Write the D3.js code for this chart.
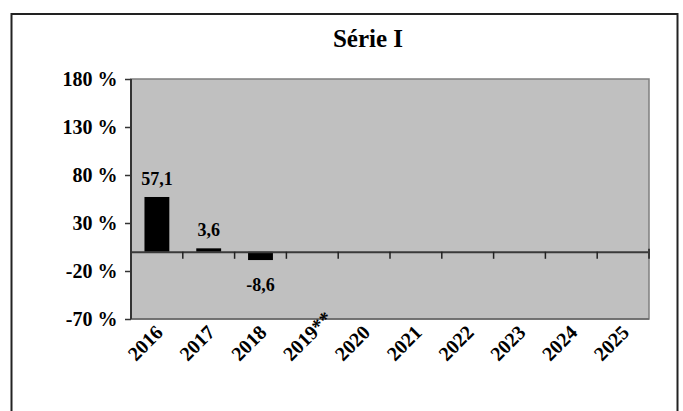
<!DOCTYPE html>
<html>
<head>
<meta charset="utf-8">
<script src="https://cdn.jsdelivr.net/npm/d3@7/dist/d3.min.js"></script>
<style>
  html, body { margin: 0; padding: 0; background: #fff; }
  svg { display: block; }
  text { font-family: "Liberation Serif", "Times New Roman", serif; font-weight: bold; fill: #000; }
</style>
</head>
<body>
<svg id="chart" width="683" height="411"></svg>
<script>
// Chart data
const title = "Série I";
const years = ["2016", "2017", "2018", "2019**", "2020", "2021", "2022", "2023", "2024", "2025"];
const values = [57.1, 3.6, -8.6, null, null, null, null, null, null, null];
const yTicks = [-70, -20, 30, 80, 130, 180];

const svg = d3.select("#chart");

// Plot area
const plot = { left: 131, right: 649, top: 79, bottom: 319 };

const x = d3.scaleBand().domain(years).range([plot.left, plot.right]).padding(0);
const y = d3.scaleLinear().domain([-70, 180]).range([plot.bottom, plot.top]);

const ptFormat = d3.formatLocale({
  decimal: ",", thousands: ".", grouping: [3], currency: ["", ""], minus: "-"
}).format(".1f");

// Outer frame
svg.append("rect")
  .attr("x", 11.5).attr("y", 14)
  .attr("width", 666).attr("height", 420)
  .attr("fill", "#fff").attr("stroke", "#222").attr("stroke-width", 2);

// Title
svg.append("text")
  .attr("x", 368).attr("y", 47)
  .attr("text-anchor", "middle")
  .style("font-size", "25px")
  .text(title);

// Plot background
svg.append("rect")
  .attr("x", plot.left).attr("y", plot.top)
  .attr("width", plot.right - plot.left).attr("height", plot.bottom - plot.top)
  .attr("fill", "#c0c0c0").attr("stroke", "#7f7f7f").attr("stroke-width", 1.5);

const points = years.map((yr, i) => ({ yr, v: values[i] })).filter(d => d.v !== null);

// Bars
const barW = x.bandwidth() * 0.48;
svg.append("g").selectAll("rect")
  .data(points)
  .join("rect")
  .attr("x", d => x(d.yr) + (x.bandwidth() - barW) / 2)
  .attr("y", d => y(Math.max(0, d.v)))
  .attr("width", barW)
  .attr("height", d => Math.abs(y(d.v) - y(0)))
  .attr("fill", "#000");

// Value labels
svg.append("g").selectAll("text")
  .data(points)
  .join("text")
  .attr("x", d => x(d.yr) + x.bandwidth() / 2)
  .attr("y", d => d.v >= 0 ? y(d.v) - 12 : y(d.v) + 31)
  .attr("text-anchor", "middle")
  .style("font-size", "18px")
  .text(d => ptFormat(d.v));

// Zero line with category ticks
const xAxis = d3.axisBottom(x).tickSize(0).tickFormat("");
const xg = svg.append("g").attr("transform", `translate(0,${y(0)})`).call(xAxis);
xg.select(".domain").attr("stroke", "#3a3a3a").attr("stroke-width", 2);
xg.selectAll(".tick").remove();
xg.append("g").selectAll("line")
  .data(years.slice(1))
  .join("line")
  .attr("x1", d => x(d)).attr("x2", d => x(d))
  .attr("y1", 0).attr("y2", 7)
  .attr("stroke", "#222").attr("stroke-width", 1.5);
xg.append("line")
  .attr("x1", plot.right).attr("x2", plot.right)
  .attr("y1", -3).attr("y2", 7)
  .attr("stroke", "#3a3a3a").attr("stroke-width", 2);

// Bottom edge of the plot
svg.append("line")
  .attr("x1", plot.left).attr("x2", plot.right)
  .attr("y1", plot.bottom).attr("y2", plot.bottom)
  .attr("stroke", "#666").attr("stroke-width", 1.5);

// Left axis
const yAxis = d3.axisLeft(y).tickValues(yTicks).tickSize(6).tickPadding(8)
  .tickFormat(d => d + " %");
const yg = svg.append("g").attr("transform", `translate(${plot.left},0)`).call(yAxis);
yg.select(".domain").attr("stroke", "#333").attr("stroke-width", 2)
  .attr("d", `M0,${plot.top}V${plot.bottom}`);
yg.selectAll(".tick line").attr("stroke", "#333").attr("stroke-width", 1.5);
yg.selectAll(".tick text")
  .style("font-size", "20px")
  .style("font-family", "'Liberation Serif', 'Times New Roman', serif")
  .style("font-weight", "bold")
  .attr("fill", "#000")
  .attr("x", -13.5)
  .attr("dy", "0.34em");

// Rotated year labels
svg.append("g").selectAll("text")
  .data(years)
  .join("text")
  .attr("transform", d => `translate(${x(d) + x.bandwidth() / 2 - 21},${plot.bottom + 43}) rotate(-45)`)
  .attr("text-anchor", "start")
  .style("font-size", "20px")
  .text(d => d);
</script>
</body>
</html>
